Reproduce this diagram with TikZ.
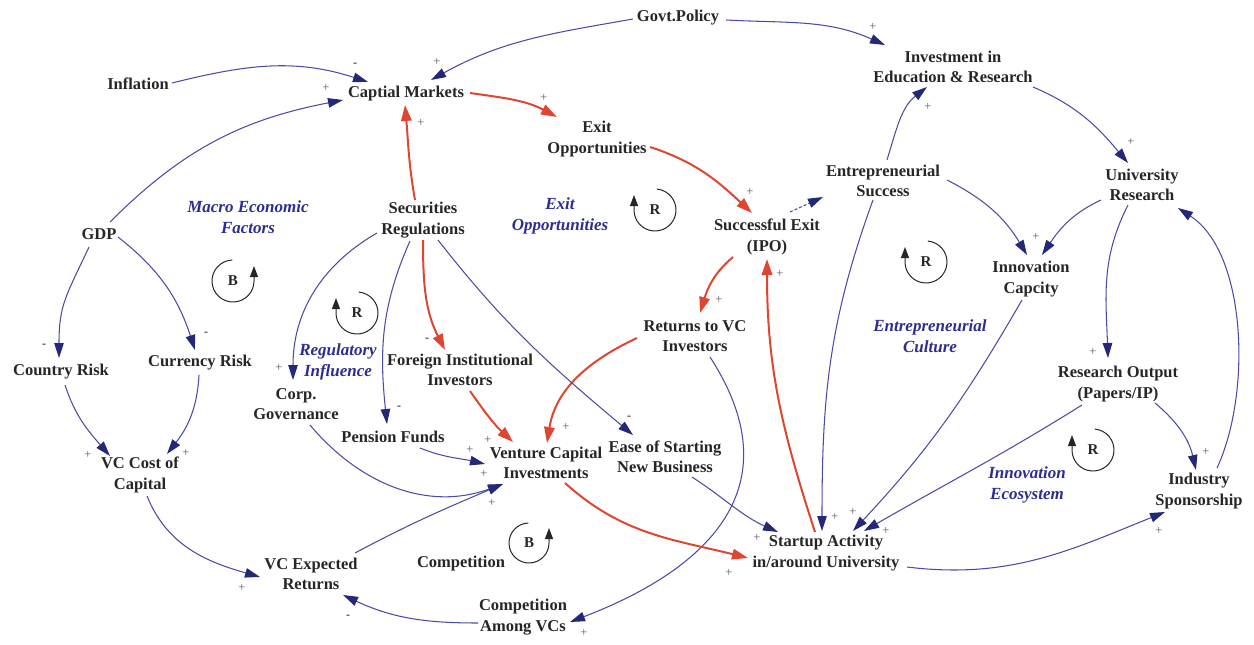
\documentclass[tikz,border=0pt]{standalone}
\usepackage{fontspec}
\setmainfont{Liberation Serif}
\usetikzlibrary{arrows.meta}
\definecolor{lnblue}{RGB}{75,75,165}
\definecolor{hdblue}{RGB}{35,40,120}
\definecolor{lnred}{RGB}{222,70,50}
\definecolor{lblblue}{RGB}{45,45,145}
\definecolor{sgngray}{RGB}{90,90,90}
\begin{document}
\begin{tikzpicture}[x=1pt,y=1pt,
  var/.style={font=\bfseries\fontsize{16.5}{20.5}\selectfont, align=center, inner sep=0pt, text=black!85},
  lbl/.style={font=\bfseries\itshape\fontsize{17}{20.5}\selectfont, align=center, text=lblblue, inner sep=0pt},
  bl/.style={draw=lnblue, line width=1.05pt, -{Triangle[length=15pt,width=9.5pt,color=hdblue]}},
  bldash/.style={bl, dash pattern=on 3pt off 2pt},
  rd/.style={draw=lnred, line width=2pt, -{Triangle[length=16pt,width=10.5pt]}},
  sg/.style={font=\fontsize{12.5}{12.5}\selectfont, text=sgngray, inner sep=0pt},
  ng/.style={font=\bfseries\fontsize{12}{12}\selectfont, text=black!80, inner sep=0pt},
  loopc/.style={draw=black!85, line width=1pt, -{Triangle[length=11pt,width=8pt]}},
  lpl/.style={font=\bfseries\fontsize{15}{15}\selectfont, inner sep=0pt, text=black!85}]
\useasboundingbox (0,0) rectangle (1254,-645);

% variables
\node[var] (gov) at (678,-18) {Govt.Policy};
\node[var] (inf) at (138,-84) {Inflation};
\node[var] (cap) at (406,-94) {Captial Markets};
\node[var] (exo) at (597,-139) {Exit\\Opportunities};
\node[var] (ied) at (953,-67) {Investment in\\Education \& Research};
\node[var] (ur) at (1142,-185) {University\\Research};
\node[var] (es) at (883,-181) {Entrepreneurial\\Success};
\node[var] (se) at (767,-237) {Successful Exit\\(IPO)};
\node[var] (sr) at (423,-220) {Securities\\Regulations};
\node[var] (gdp) at (99,-234) {GDP};
\node[var] (ic) at (1031,-279) {Innovation\\Capcity};
\node[var] (ret) at (695,-336) {Returns to VC\\Investors};
\node[var] (cr) at (61,-372) {Country Risk};
\node[var] (cur) at (200,-363) {Currency Risk};
\node[var] (cg) at (296,-404) {Corp.\\Governance};
\node[var] (fii) at (460,-370) {Foreign Institutional\\Investors};
\node[var] (ro) at (1118,-384) {Research Output\\(Papers/IP)};
\node[var] (pf) at (393,-437) {Pension Funds};
\node[var] (vci) at (546,-463) {Venture Capital\\Investments};
\node[var] (eas) at (665,-457) {Ease of Starting\\New Business};
\node[var] (vcc) at (140,-475) {VC Cost of\\Capital};
\node[var] (is) at (1199,-491) {Industry\\Sponsorship};
\node[var] (sa) at (826,-553) {Startup Activity\\in/around University};
\node[var] (vce) at (311,-574) {VC Expected\\Returns};
\node[var] (comp) at (461,-564) {Competition};
\node[var] (cav) at (523,-617) {Competition\\Among VCs};

% loop labels
\node[lbl] (lmacro) at (248,-217) {Macro Economic\\Factors};
\node[lbl] (lexit) at (560,-216) {Exit\\Opportunities};
\node[lbl] (lreg) at (338,-362) {Regulatory\\Influence};
\node[lbl] (lent) at (930,-336) {Entrepreneurial\\Culture};
\node[lbl] (linn) at (1027,-485) {Innovation\\Ecosystem};

% loop symbols
\node[lpl] (lb1) at (233,-281) {B};
\draw[loopc] ([shift={(92:21)}]lb1.center) arc[start angle=92,end angle=360,radius=21] -- ++(0,15);
\node[lpl] (lb2) at (529,-543) {B};
\draw[loopc] ([shift={(92:20)}]lb2.center) arc[start angle=92,end angle=360,radius=20] -- ++(0,15);
\node[lpl] (lr1) at (655,-210) {R};
\draw[loopc] ([shift={(85:21)}]lr1.center) arc[start angle=85,end angle=-180,radius=21] -- ++(0,15);
\node[lpl] (lr2) at (357,-313) {R};
\draw[loopc] ([shift={(85:21)}]lr2.center) arc[start angle=85,end angle=-180,radius=21] -- ++(0,15);
\node[lpl] (lr3) at (926,-262) {R};
\draw[loopc] ([shift={(85:21)}]lr3.center) arc[start angle=85,end angle=-180,radius=21] -- ++(0,15);
\node[lpl] (lr4) at (1093,-450) {R};
\draw[loopc] ([shift={(85:21)}]lr4.center) arc[start angle=85,end angle=-180,radius=21] -- ++(0,15);

% connectors
\draw[bl] ([shift={(34,1)}]inf.center) to[out=14,in=162] ([shift={(-38,12)}]cap.center);
\draw[bl] ([shift={(11,12)}]gdp.center) to[out=45,in=191] ([shift={(-63,-6)}]cap.center);
\draw[bl] ([shift={(-45,-1)}]gov.center) to[out=190,in=29] ([shift={(25,14)}]cap.center);
\draw[bl] ([shift={(48,-2)}]gov.center) to[out=-3,in=156] ([shift={(-68,22)}]ied.center);
\draw[rd] ([shift={(64,1)}]cap.center) to[out=-8,in=152] ([shift={(-40,22)}]exo.center);
\draw[rd] ([shift={(-8,20)}]sr.center) to[out=100,in=-85] ([shift={(-1,-11)}]cap.center);
\draw[rd] ([shift={(53,-8)}]exo.center) to[out=-18,in=137] ([shift={(-15,24)}]se.center);
\draw[bldash] ([shift={(23,25)}]se.center) -- ([shift={(-60,-16)}]es.center);
\draw[bl] ([shift={(4,21)}]es.center) to[out=73,in=218] ([shift={(-26,-20)}]ied.center);
\draw[bl] ([shift={(80,-20)}]ied.center) to[out=-23,in=130] ([shift={(-14,22)}]ur.center);
\draw[bl] ([shift={(64,1)}]es.center) to[out=-27,in=121] ([shift={(-4,24)}]ic.center);
\draw[bl] ([shift={(-41,-15)}]ur.center) to[out=205,in=56] ([shift={(11,24)}]ic.center);
\draw[bl] ([shift={(-14,-20)}]ur.center) to[out=243,in=92] ([shift={(-10,26)}]ro.center);
\draw[bl] ([shift={(18,23)}]is.center) to[out=65,in=-33,looseness=0.8] ([shift={(36,-23)}]ur.center);
\draw[bl] ([shift={(37,-19)}]ro.center) to[out=-40,in=103] ([shift={(-3,21)}]is.center);
\draw[bl] ([shift={(-36,-21)}]ro.center) to[out=212,in=30] ([shift={(38,22)}]sa.center);
\draw[bl] ([shift={(-9,-21)}]ic.center) to[out=240,in=47] ([shift={(27,22)}]sa.center);
\draw[bl] ([shift={(-10,-19)}]es.center) to[out=250,in=90] ([shift={(-4,22)}]sa.center);
\draw[rd] ([shift={(-11,21)}]sa.center) to[out=108,in=-90] ([shift={(0,-22)}]se.center);
\draw[rd] ([shift={(-34,-20)}]se.center) to[out=220,in=73] ([shift={(5,23)}]ret.center);
\draw[rd] ([shift={(-58,-2)}]ret.center) to[out=205,in=81] ([shift={(1,20)}]vci.center);
\draw[bl] ([shift={(15,-21)}]ret.center) to[out=-57,in=21,looseness=1.3] ([shift={(47,-5)}]cav.center);
\draw[bl] ([shift={(-45,-6)}]cav.center) to[out=180,in=-25] ([shift={(32,-21)}]vce.center);
\draw[bl] ([shift={(44,21)}]vce.center) to[out=28,in=203] ([shift={(-43,-21)}]vci.center);
\draw[bl] ([shift={(7,-21)}]vcc.center) to[out=-68,in=164] ([shift={(-51,-3)}]vce.center);
\draw[bl] ([shift={(4,-13)}]cr.center) to[out=-72,in=131] ([shift={(-30,19)}]vcc.center);
\draw[bl] ([shift={(-1,-12)}]cur.center) to[out=-93,in=52] ([shift={(27,21)}]vcc.center);
\draw[bl] ([shift={(-10,-13)}]gdp.center) to[out=245,in=90,looseness=1.2] ([shift={(-2,14)}]cr.center);
\draw[bl] ([shift={(19,-3)}]gdp.center) to[out=-38,in=108] ([shift={(-5,13)}]cur.center);
\draw[bl] ([shift={(-46,-13)}]sr.center) to[out=210,in=90] ([shift={(-3,24)}]cg.center);
\draw[bl] ([shift={(-13,-21)}]sr.center) to[out=246,in=96] ([shift={(-6,13)}]pf.center);
\draw[rd] ([shift={(0,-20)}]sr.center) to[out=-90,in=117] ([shift={(-15,20)}]fii.center);
\draw[bl] ([shift={(15,-20)}]sr.center) to[out=-52,in=140] ([shift={(-32,22)}]eas.center);
\draw[rd] ([shift={(10,-21)}]fii.center) to[out=-55,in=137] ([shift={(-33,21)}]vci.center);
\draw[bl] ([shift={(27,-11)}]pf.center) to[out=-22,in=167] ([shift={(-61,-1)}]vci.center);
\draw[bl] ([shift={(14,-21)}]cg.center) to[out=-50,in=200] ([shift={(-43,-21)}]vci.center);
\draw[rd] ([shift={(19,-20)}]vci.center) to[out=-42,in=166] ([shift={(-78,-5)}]sa.center);
\draw[bl] ([shift={(27,-20)}]eas.center) to[out=-33,in=156] ([shift={(-48,21)}]sa.center);
\draw[bl] ([shift={(81,-14)}]sa.center) to[out=-7,in=202] ([shift={(-34,-21)}]is.center);

% polarity signs
\node[ng] (s1) at (355,-65) {-};
\node[sg] (s2) at (326,-88) {+};
\node[sg] (s3) at (437,-62) {+};
\node[sg] (s4) at (544,-98) {+};
\node[sg] (s5) at (421,-123) {+};
\node[sg] (s6) at (873,-27) {+};
\node[sg] (s7) at (928,-107) {+};
\node[sg] (s8) at (1131,-142) {+};
\node[sg] (s9) at (750,-192) {+};
\node[sg] (s10) at (1036,-237) {+};
\node[sg] (s11) at (780,-274) {+};
\node[sg] (s12) at (719,-300) {+};
\node[ng] (s13) at (44,-346) {-};
\node[ng] (s14) at (206,-334) {-};
\node[sg] (s15) at (279,-368) {+};
\node[ng] (s16) at (427,-340) {-};
\node[ng] (s17) at (399,-408) {-};
\node[ng] (s18) at (629,-418) {-};
\node[sg] (s19) at (1093,-352) {+};
\node[sg] (s20) at (1206,-452) {+};
\node[sg] (s21) at (88,-455) {+};
\node[sg] (s22) at (186,-453) {+};
\node[sg] (s23) at (566,-427) {+};
\node[sg] (s24) at (488,-440) {+};
\node[sg] (s25) at (470,-450) {+};
\node[sg] (s26) at (484,-474) {+};
\node[sg] (s27) at (492,-503) {+};
\node[sg] (s28) at (835,-517) {+};
\node[sg] (s29) at (853,-512) {+};
\node[sg] (s30) at (886,-531) {+};
\node[sg] (s31) at (757,-538) {+};
\node[sg] (s32) at (729,-573) {+};
\node[sg] (s33) at (1159,-531) {+};
\node[sg] (s34) at (242,-588) {+};
\node[ng] (s35) at (348,-617) {-};
\node[sg] (s36) at (584,-633) {+};
\end{tikzpicture}
\end{document}
